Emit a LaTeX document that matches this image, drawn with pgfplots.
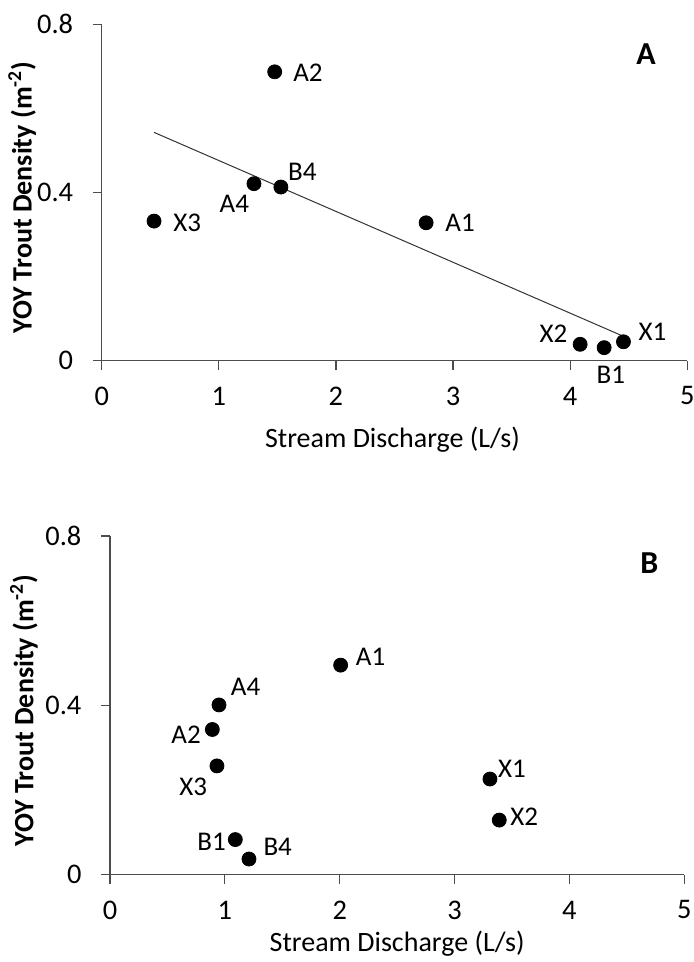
\documentclass[border=0pt]{standalone}
\usepackage{fontspec}
\setmainfont{Carlito}
\usepackage{pgfplots}
\pgfplotsset{compat=1.18}

\pgfplotsset{
  panel/.style={
    scale only axis,
    axis x line*=bottom,
    axis y line*=left,
    axis line style={black!70, line width=0.6pt},
    xmin=0, xmax=5, ymin=0, ymax=0.8,
    xtick={0,1,2,3,4,5},
    ytick={0,0.4,0.8},
    yticklabels={0,0.4,0.8},
    tick align=outside,
    major tick length=4.5pt,
    tick style={black!70, line width=0.6pt},
    clip=false,
    /pgf/number format/assume math mode=true,
    tick label style={font=\fontsize{14.2}{17}\selectfont},
    xticklabel style={anchor=center, inner sep=0pt, yshift=-13.1pt},
    yticklabel style={anchor=east, inner sep=0pt, xshift=-9.6pt},
    xlabel={Stream Discharge (L/s)},
    ylabel={\bfseries YOY Trout Density (m\textsuperscript{-2})},
    label style={font=\fontsize{14}{17}\selectfont, inner sep=0pt},
  },
  pts/.style={only marks, mark=*, mark size=3.5pt, black},
}
\tikzset{
  lbl/.style={font=\fontsize{13.5}{16}\selectfont, anchor=center, inner sep=0pt},
  panelname/.style={font=\fontsize{16}{19}\selectfont\bfseries, anchor=center, inner sep=0pt},
}

\begin{document}
\begin{tikzpicture}
\useasboundingbox (0,0) rectangle (347pt,-481pt);

% Panel A: density vs discharge with linear trend
\begin{axis}[panel,
  at={(50.85pt,-180.35pt)}, anchor=south west,
  width=292.8pt, height=168.2pt,
  xlabel style={at={(axis description cs:0.5,0)}, anchor=base, yshift=-43.2pt, xshift=-1pt},
  ylabel style={at={(axis description cs:0,0.5)}, anchor=base, yshift=35pt, xshift=-2.5pt},
]
\addplot[black!80, line width=0.5pt] coordinates {(0.447,0.543) (4.455,0.058)};
\addplot[pts] coordinates {
  (1.477,0.687) % A2
  (0.447,0.332) % X3
  (1.300,0.421) % A4
  (1.530,0.413) % B4
  (2.770,0.328) % A1
  (4.085,0.039) % X2
  (4.290,0.031) % B1
  (4.455,0.045) % X1
};
\node[lbl] at (axis cs:1.761,0.684) {A2};
\node[lbl] at (axis cs:0.731,0.328) {X3};
\node[lbl] at (axis cs:1.132,0.373) {A4};
\node[lbl] at (axis cs:1.713,0.449) {B4};
\node[lbl] at (axis cs:3.060,0.327) {A1};
\node[lbl] at (axis cs:3.857,0.063) {X2};
\node[lbl] at (axis cs:4.347,-0.034) {B1};
\node[lbl] at (axis cs:4.702,0.069) {X1};
\node[panelname] at (axis cs:4.648,0.728) {A};
\end{axis}

% Panel B
\begin{axis}[panel,
  at={(55pt,-437.35pt)}, anchor=south west,
  width=287.15pt, height=169.35pt,
  xlabel style={at={(axis description cs:0.5,0)}, anchor=base, yshift=-38.6pt},
  ylabel style={at={(axis description cs:0,0.5)}, anchor=base, yshift=38.3pt, xshift=-2.5pt},
]
\addplot[pts] coordinates {
  (0.949,0.401) % A4
  (0.891,0.343) % A2
  (0.931,0.257) % X3
  (1.091,0.083) % B1
  (1.210,0.037) % B4
  (2.008,0.495) % A1
  (3.308,0.226) % X1
  (3.389,0.129) % X2
};
\node[lbl] at (axis cs:1.181,0.444) {A4};
\node[lbl] at (axis cs:0.662,0.330) {A2};
\node[lbl] at (axis cs:0.725,0.208) {X3};
\node[lbl] at (axis cs:0.885,0.078) {B1};
\node[lbl] at (axis cs:1.460,0.066) {B4};
\node[lbl] at (axis cs:2.269,0.515) {A1};
\node[lbl] at (axis cs:3.500,0.251) {X1};
\node[lbl] at (axis cs:3.607,0.137) {X2};
\node[panelname] at (axis cs:4.695,0.735) {B};
\end{axis}
\end{tikzpicture}
\end{document}
